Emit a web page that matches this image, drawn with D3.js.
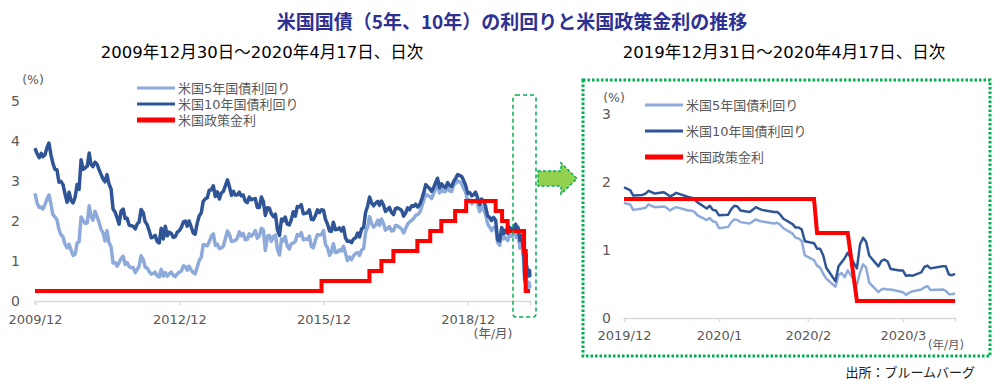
<!DOCTYPE html>
<html><head><meta charset="utf-8">
<script src="https://cdn.jsdelivr.net/npm/d3@7"></script>
<style>
html,body{margin:0;padding:0;background:#fff;}
svg{display:block;}
</style></head>
<body>
<svg id="chart" width="1000" height="384"></svg>
<script>
// ---------------- DATA ----------------
const title = "米国国債（5年、10年）の利回りと米国政策金利の推移";
const subtitleLong = "2009年12月30日～2020年4月17日、日次";
const subtitleShort = "2019年12月31日～2020年4月17日、日次";
const seriesNames = ["米国5年国債利回り", "米国10年国債利回り", "米国政策金利"];
const sourceText = "出所：ブルームバーグ";

// long period: start point, then mid-month (15th) and month-end values from 2010/1 to 2019/12 mid
const longStart = "2009-12-30";
const longStart5y = 2.69;
const longStart10y = 3.82;
const long10y = [
  3.68,3.58, 3.69,3.61, 3.65,3.83, 3.95,3.66, 3.44,3.29, 3.28,2.97, 2.99,2.91, 2.68,2.47, 2.72,2.51, 2.45,2.60, 2.91,2.79, 3.53,3.29,
  3.33,3.37, 3.70,3.42, 3.36,3.47, 3.42,3.29, 3.17,3.05, 2.98,3.16, 2.93,2.80, 2.30,2.22, 2.08,1.92, 2.25,2.30, 2.06,2.07, 1.90,1.88,
  1.87,1.80, 1.93,1.97, 2.29,2.21, 1.98,1.91, 1.76,1.58, 1.60,1.64, 1.49,1.45, 1.82,1.55, 1.87,1.63, 1.72,1.69, 1.59,1.61, 1.72,1.76,
  1.84,1.98, 2.00,1.87, 2.00,1.85, 1.70,1.67, 1.94,2.13, 2.20,2.49, 2.55,2.58, 2.77,2.78, 2.88,2.61, 2.73,2.55, 2.70,2.74, 2.88,3.03,
  2.86,2.64, 2.74,2.65, 2.65,2.72, 2.63,2.65, 2.50,2.46, 2.60,2.53, 2.55,2.56, 2.34,2.34, 2.60,2.49, 2.14,2.33, 2.32,2.18, 2.11,2.17,
  1.78,1.64, 2.05,2.00, 2.10,1.92, 1.90,2.03, 2.23,2.12, 2.36,2.35, 2.41,2.18, 2.19,2.21, 2.28,2.04, 2.03,2.14, 2.28,2.21, 2.28,2.27,
  2.04,1.92, 1.75,1.74, 1.97,1.78, 1.79,1.83, 1.75,1.84, 1.58,1.49, 1.50,1.46, 1.55,1.58, 1.70,1.60, 1.80,1.84, 2.22,2.37, 2.60,2.45,
  2.38,2.45, 2.49,2.39, 2.50,2.40, 2.24,2.29, 2.34,2.21, 2.16,2.31, 2.33,2.30, 2.27,2.12, 2.20,2.33, 2.28,2.38, 2.37,2.42, 2.35,2.41,
  2.54,2.72, 2.91,2.86, 2.82,2.74, 2.83,2.95, 3.07,2.83, 2.93,2.86, 2.83,2.96, 2.89,2.86, 2.99,3.06, 3.16,3.14, 3.11,3.01, 2.89,2.69,
  2.71,2.63, 2.66,2.72, 2.59,2.41, 2.55,2.51, 2.37,2.13, 2.09,2.01, 2.09,2.02, 1.53,1.50, 1.84,1.68, 1.77,1.69, 1.84,1.78, 1.82
];
const long5y = [
  2.45,2.34, 2.35,2.30, 2.40,2.55, 2.65,2.43, 2.16,2.10, 2.03,1.79, 1.66,1.60, 1.42,1.33, 1.42,1.27, 1.14,1.17, 1.45,1.48, 2.10,2.01,
  1.94,1.95, 2.38,2.13, 2.02,2.24, 2.12,1.97, 1.80,1.70, 1.50,1.76, 1.46,1.35, 0.95,0.96, 0.87,0.96, 1.06,1.12, 0.91,0.96, 0.86,0.83,
  0.84,0.71, 0.79,0.87, 1.13,1.04, 0.85,0.82, 0.74,0.67, 0.69,0.72, 0.63,0.60, 0.79,0.62, 0.71,0.62, 0.68,0.72, 0.64,0.61, 0.68,0.72,
  0.75,0.88, 0.86,0.77, 0.87,0.77, 0.71,0.68, 0.84,1.02, 1.09,1.41, 1.40,1.38, 1.48,1.62, 1.68,1.39, 1.42,1.31, 1.33,1.37, 1.55,1.75,
  1.66,1.49, 1.50,1.51, 1.56,1.73, 1.63,1.69, 1.53,1.54, 1.68,1.62, 1.67,1.76, 1.57,1.63, 1.82,1.78, 1.26,1.62, 1.64,1.49, 1.61,1.65,
  1.29,1.15, 1.55,1.50, 1.61,1.37, 1.30,1.43, 1.45,1.49, 1.66,1.63, 1.71,1.53, 1.55,1.54, 1.62,1.36, 1.33,1.52, 1.66,1.65, 1.66,1.76,
  1.41,1.33, 1.14,1.22, 1.43,1.21, 1.22,1.28, 1.25,1.37, 1.19,1.01, 1.10,1.03, 1.13,1.19, 1.21,1.14, 1.27,1.31, 1.73,1.84, 2.11,1.93,
  1.85,1.90, 2.02,1.89, 2.05,1.93, 1.77,1.81, 1.86,1.75, 1.76,1.89, 1.88,1.84, 1.80,1.70, 1.81,1.92, 1.98,2.01, 2.06,2.14, 2.16,2.21,
  2.35,2.52, 2.67,2.64, 2.62,2.56, 2.68,2.79, 2.93,2.70, 2.80,2.73, 2.74,2.85, 2.75,2.74, 2.90,2.94, 3.00,2.98, 2.93,2.81, 2.71,2.51,
  2.53,2.43, 2.48,2.52, 2.43,2.23, 2.38,2.28, 2.17,1.93, 1.85,1.76, 1.84,1.83, 1.47,1.39, 1.76,1.55, 1.59,1.51, 1.66,1.62, 1.66
];

// short period: daily (business days)
const shortDates = [
  "2019-12-31",
  "2020-01-02","2020-01-03","2020-01-06","2020-01-07","2020-01-08","2020-01-09","2020-01-10","2020-01-13","2020-01-14","2020-01-15",
  "2020-01-16","2020-01-17","2020-01-21","2020-01-22","2020-01-23","2020-01-24","2020-01-27","2020-01-28","2020-01-29","2020-01-30","2020-01-31",
  "2020-02-03","2020-02-04","2020-02-05","2020-02-06","2020-02-07","2020-02-10","2020-02-11","2020-02-12","2020-02-13","2020-02-14",
  "2020-02-18","2020-02-19","2020-02-20","2020-02-21","2020-02-24","2020-02-25","2020-02-26","2020-02-27","2020-02-28",
  "2020-03-02","2020-03-03","2020-03-04","2020-03-05","2020-03-06","2020-03-09","2020-03-10","2020-03-11","2020-03-12","2020-03-13",
  "2020-03-16","2020-03-17","2020-03-18","2020-03-19","2020-03-20","2020-03-23","2020-03-24","2020-03-25","2020-03-26","2020-03-27","2020-03-30","2020-03-31",
  "2020-04-01","2020-04-02","2020-04-03","2020-04-06","2020-04-07","2020-04-08","2020-04-09","2020-04-13","2020-04-14","2020-04-15","2020-04-16","2020-04-17"
];
const short10y = [
  1.92,
  1.88,1.80,1.81,1.83,1.87,1.85,1.83,1.85,1.82,1.79,1.81,1.84,1.78,1.77,1.74,1.70,1.61,1.65,1.59,1.58,1.51,
  1.52,1.60,1.65,1.64,1.58,1.56,1.59,1.63,1.61,1.59,1.56,1.56,1.52,1.46,1.38,1.33,1.33,1.30,1.13,
  1.10,1.02,1.02,0.92,0.74,0.54,0.76,0.82,0.88,0.96,0.73,1.08,1.18,1.12,0.92,0.76,0.84,0.86,0.83,0.72,0.70,0.70,
  0.62,0.63,0.62,0.67,0.75,0.77,0.73,0.76,0.76,0.64,0.63,0.65
];
const short5y = [
  1.69,
  1.67,1.59,1.61,1.62,1.67,1.65,1.63,1.64,1.62,1.58,1.61,1.63,1.58,1.58,1.56,1.51,1.44,1.47,1.42,1.41,1.32,
  1.34,1.41,1.45,1.44,1.41,1.39,1.42,1.45,1.43,1.42,1.39,1.40,1.37,1.32,1.24,1.18,1.17,1.13,0.92,
  0.85,0.77,0.74,0.65,0.58,0.46,0.63,0.66,0.60,0.70,0.49,0.67,0.79,0.74,0.52,0.38,0.42,0.43,0.42,0.42,0.39,0.38,
  0.34,0.37,0.39,0.42,0.45,0.47,0.41,0.42,0.40,0.35,0.35,0.36
];

// policy rate (upper bound) change dates
const policyDates = ["2009-12-30","2015-12-16","2016-12-14","2017-03-15","2017-06-14","2017-12-13","2018-03-21","2018-06-13","2018-09-26","2018-12-19","2019-07-31","2019-09-18","2019-10-30","2020-03-03","2020-03-15"];
const policyRates = [0.25,0.50,0.75,1.00,1.25,1.50,1.75,2.00,2.25,2.50,2.25,2.00,1.75,1.25,0.25];

const longTickDates = ["2009-12-30","2012-12-31","2015-12-31","2018-12-31"];
const longTickLabels = ["2009/12","2012/12","2015/12","2018/12"];
const shortTickDates = ["2019-12-31","2020-01-31","2020-02-29","2020-03-31"];
const shortTickLabels = ["2019/12","2020/1","2020/2","2020/3"];
const longYTicks = [0,1,2,3,4,5];
const shortYTicks = [0,1,2,3];

// ---------------- BUILD ----------------
const parse = d3.timeParse("%Y-%m-%d");
const C5 = "#8eaadb", C10 = "#2f5597", CR = "#ff0000";
const FONT = '"DejaVu Sans","Noto Sans CJK JP",sans-serif';
const CJK = '"Noto Sans CJK JP",sans-serif';
const svg = d3.select("#chart");
svg.append("rect").attr("width",1000).attr("height",384).attr("fill","#fff");

// long date list (mid and end of each month)
const semiDates = [];
d3.timeMonth.range(new Date(2010,0,1), new Date(2020,0,1)).forEach(m => {
  semiDates.push(new Date(m.getFullYear(), m.getMonth(), 15));
  semiDates.push(new Date(m.getFullYear(), m.getMonth()+1, 0));
});
const sDates = shortDates.map(parse);
const long5 = [{d:parse(longStart), v:longStart5y}]
  .concat(long5y.map((v,i)=>({d:semiDates[i], v})))
  .concat(short5y.map((v,i)=>({d:sDates[i], v})));
const long10 = [{d:parse(longStart), v:longStart10y}]
  .concat(long10y.map((v,i)=>({d:semiDates[i], v})))
  .concat(short10y.map((v,i)=>({d:sDates[i], v})));
const pDates = policyDates.map(parse);
const endDate = sDates[sDates.length-1];
const longPolicy = pDates.map((d,i)=>({d, v:policyRates[i]})).concat([{d:endDate, v:policyRates[policyRates.length-1]}]);
function policyAt(date){ let v = policyRates[0]; pDates.forEach((d,i)=>{ if (d <= date) v = policyRates[i]; }); return v; }
const shortPolicy = sDates.map(d => ({d, v:policyAt(d)}));
const short5 = sDates.map((d,i)=>({d, v:short5y[i]}));
const short10 = sDates.map((d,i)=>({d, v:short10y[i]}));

// ---- titles ----
svg.append("text").attr("x",512).attr("y",29).attr("text-anchor","middle")
  .attr("font-family",CJK).attr("font-weight","bold").attr("font-size",19).attr("fill","#2e3192").text(title);
svg.append("text").attr("x",262).attr("y",58).attr("text-anchor","middle")
  .attr("font-family",FONT).attr("font-size",16.5).attr("fill","#000").text(subtitleLong);
svg.append("text").attr("x",784).attr("y",58).attr("text-anchor","middle")
  .attr("font-family",FONT).attr("font-size",16.5).attr("fill","#000").text(subtitleShort);

// ---- generic chart function ----
function drawChart(cfg){
  const x = d3.scaleTime().domain(cfg.xDomain).range(cfg.xRange);
  const y = d3.scaleLinear().domain(cfg.yDomain).range(cfg.yRange);
  const g = svg.append("g");
  // x axis
  const ax = g.append("g").attr("transform",`translate(0,${cfg.yRange[0]})`)
    .call(d3.axisBottom(x).tickValues(cfg.tickDates).tickFormat((d,i)=>cfg.tickLabels[i]).tickSizeOuter(0).tickSize(4).tickPadding(cfg.tickPad));
  ax.select(".domain").attr("stroke","#d9d9d9").attr("stroke-width",1.5);
  ax.selectAll(".tick line").attr("stroke","#d9d9d9").attr("stroke-width",1.5);
  ax.selectAll("text").attr("font-family",FONT).attr("font-size",13).attr("fill","#595959");
  // y axis
  const ay = g.append("g").attr("transform",`translate(${cfg.yLabelX},0)`)
    .call(d3.axisLeft(y).tickValues(cfg.yTicks).tickFormat(d3.format("d")).tickSize(0).tickPadding(0));
  ay.select(".domain").remove();
  ay.selectAll("text").attr("font-family",FONT).attr("font-size",14).attr("fill","#595959");
  // lines
  const line = d3.line().x(d=>x(d.d)).y(d=>y(d.v));
  g.append("path").datum(cfg.s5).attr("d",line).attr("fill","none").attr("stroke",C5).attr("stroke-width",cfg.lw).attr("stroke-linejoin","round");
  g.append("path").datum(cfg.s10).attr("d",line).attr("fill","none").attr("stroke",C10).attr("stroke-width",cfg.lw).attr("stroke-linejoin","round");
  const rline = d3.line().x(d=>x(d.d)).y(d=>y(d.v)).curve(cfg.redCurve);
  g.append("path").datum(cfg.sp).attr("d",rline).attr("fill","none").attr("stroke",CR).attr("stroke-width",4).attr("stroke-linejoin","miter");
  // legend
  const cols = [C5,C10,CR], widths=[3,3,5];
  seriesNames.forEach((n,i)=>{
    const yy = cfg.legY[i];
    g.append("line").attr("x1",cfg.legX).attr("x2",cfg.legX+38).attr("y1",yy).attr("y2",yy).attr("stroke",cols[i]).attr("stroke-width",widths[i]);
    g.append("text").attr("x",cfg.legX+41).attr("y",yy).attr("dy","0.36em").attr("font-family",FONT).attr("font-size",13).attr("fill","#595959").text(n);
  });
  // unit labels
  g.append("text").attr("x",cfg.pctX).attr("y",cfg.pctY).attr("text-anchor","middle").attr("font-family",FONT).attr("font-size",12.5).attr("fill","#595959").text("(%)");
  g.append("text").attr("x",cfg.ymX).attr("y",cfg.ymY).attr("text-anchor","middle").attr("font-family",FONT).attr("font-size",cfg.ymSize).attr("fill","#595959").text("(年/月)");
}

drawChart({
  xDomain:[parse(longStart), endDate], xRange:[35,530],
  yDomain:[0,5], yRange:[301,101], yTicks:longYTicks, yLabelX:20,
  tickDates:longTickDates.map(parse), tickLabels:longTickLabels, tickPad:10,
  s5:long5, s10:long10, sp:longPolicy, redCurve:d3.curveStepAfter, lw:3.5,
  legX:137, legY:[88,104,120],
  pctX:33, pctY:84, ymX:493, ymY:338, ymSize:12.5
});
drawChart({
  xDomain:[parse("2019-12-31"), endDate], xRange:[624,955],
  yDomain:[0,3], yRange:[318,114], yTicks:shortYTicks, yLabelX:611,
  tickDates:shortTickDates.map(parse), tickLabels:shortTickLabels, tickPad:9,
  s5:short5, s10:short10, sp:shortPolicy, redCurve:d3.curveLinear, lw:2.5,
  legX:645, legY:[105,131,157],
  pctX:614, pctY:102, ymX:946, ymY:349, ymSize:11.5
});

// ---- highlight box, arrow, outer frame ----
svg.append("rect").attr("x",513).attr("y",95).attr("width",23).attr("height",222).attr("rx",3)
  .attr("fill","none").attr("stroke","#00b050").attr("stroke-width",1.5).attr("stroke-dasharray","4,3");
svg.append("polygon").attr("points","538,171 561,171 561,163 577,178.5 561,194 561,186 538,186")
  .attr("fill","#92d050").attr("stroke","#00b050").attr("stroke-width",1.5).attr("stroke-dasharray","3,2");
svg.append("rect").attr("x",583).attr("y",80).attr("width",407).attr("height",276)
  .attr("fill","none").attr("stroke","#00b050").attr("stroke-width",3).attr("stroke-dasharray","2.5,2");

svg.append("text").attr("x",975).attr("y",377).attr("text-anchor","end")
  .attr("font-family",CJK).attr("font-size",13).attr("fill","#222").text(sourceText);
</script>
</body></html>
